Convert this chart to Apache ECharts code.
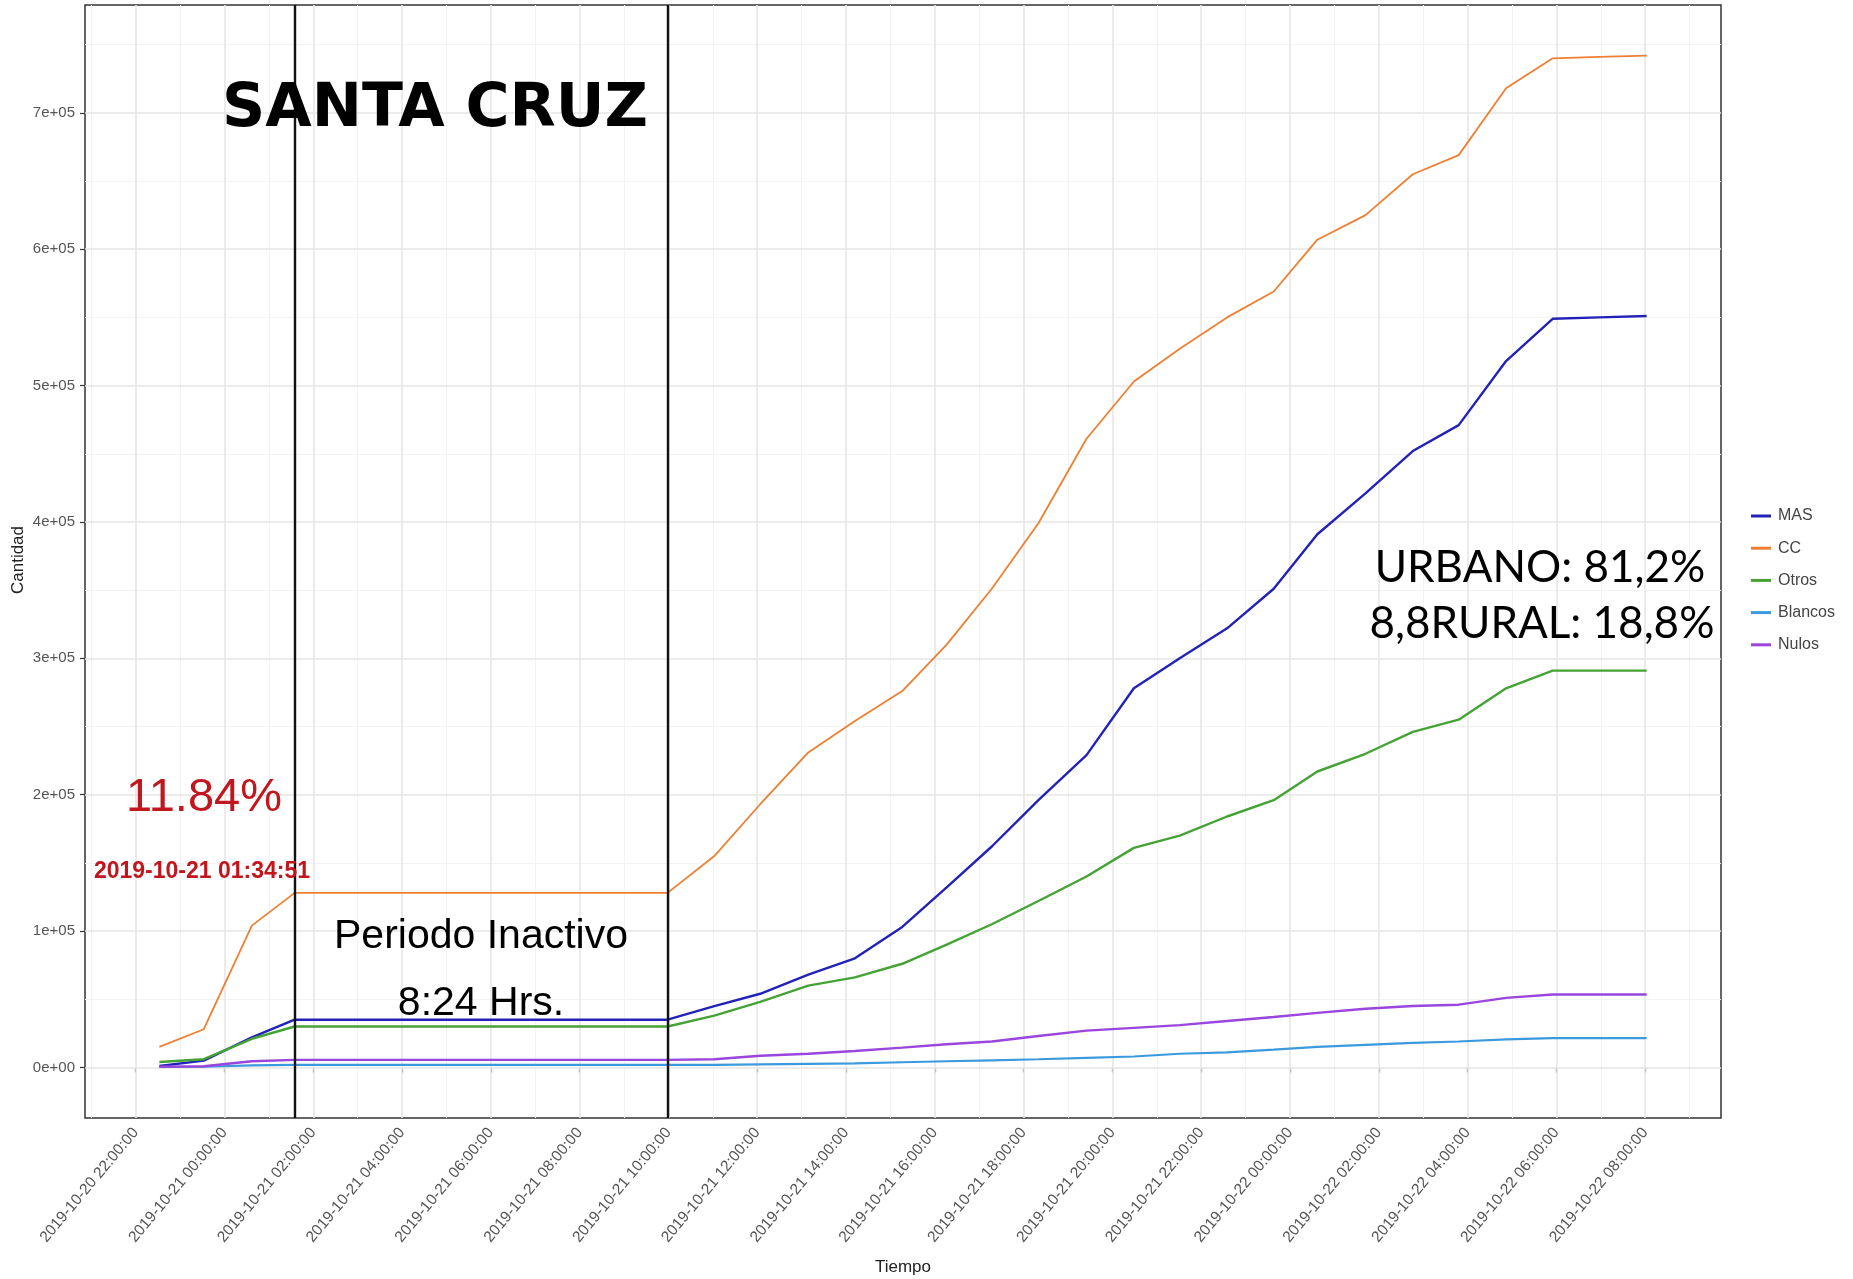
<!DOCTYPE html>
<html>
<head>
<meta charset="utf-8">
<script src="https://cdn.jsdelivr.net/npm/echarts@6/dist/echarts.min.js"></script>
<style>
html,body{margin:0;padding:0;background:#fff;}
#chart{width:1853px;height:1279px;}
</style>
</head>
<body>
<div id="chart"></div>
<script>
// ---- data ----
const times = ['2019-10-20 22:32','2019-10-20 23:32','2019-10-21 00:37','2019-10-21 01:34:51','2019-10-21 09:58:51',
  '2019-10-21 11:02','2019-10-21 12:04','2019-10-21 13:09','2019-10-21 14:12','2019-10-21 15:16','2019-10-21 16:16',
  '2019-10-21 17:17','2019-10-21 18:20','2019-10-21 19:25','2019-10-21 20:29','2019-10-21 21:31','2019-10-21 22:35',
  '2019-10-21 23:38','2019-10-22 00:37','2019-10-22 01:42','2019-10-22 02:46','2019-10-22 03:48','2019-10-22 04:52',
  '2019-10-22 05:55','2019-10-22 06:58','2019-10-22 08:02'];
const mas     = [1000,5000,22000,35000,35000,45000,54000,68000,80000,103000,132000,162000,196000,229000,278000,300000,322000,351000,391000,421000,452000,471000,518000,549000,550000,551000];
const cc      = [15000,28000,104000,128000,128000,155000,193000,231000,254000,276000,310000,351000,399000,461000,503000,527000,550000,569000,607000,625000,655000,669000,718000,740000,741000,742000];
const otros   = [4000,6000,21000,30000,30000,38000,48000,60000,66000,76000,90000,105000,122000,140000,161000,170000,184000,196000,217000,230000,246000,255000,278000,291000,291000,291000];
const blancos = [300,500,1500,1800,1800,1800,2200,2600,3000,3800,4500,5200,6000,7000,8000,10000,11000,13000,15000,16500,18000,19000,20500,21500,21500,21500];
const nulos   = [500,800,4500,5500,5500,6000,8500,10000,12000,14500,17000,19000,23000,27000,29000,31000,34000,37000,40000,43000,45000,46000,51000,53500,53500,53500];
const seriesNames = ['MAS','CC','Otros','Blancos','Nulos'];
const seriesColors = ['#2222b8','#ee7f33','#45a336','#3b9ade','#9a46de'];
const seriesWidths = [2.4,1.8,2.4,2.2,2.4];
const xTickTimes = ['2019-10-20 22:00','2019-10-21 00:00','2019-10-21 02:00','2019-10-21 04:00','2019-10-21 06:00','2019-10-21 08:00',
  '2019-10-21 10:00','2019-10-21 12:00','2019-10-21 14:00','2019-10-21 16:00','2019-10-21 18:00','2019-10-21 20:00',
  '2019-10-21 22:00','2019-10-22 00:00','2019-10-22 02:00','2019-10-22 04:00','2019-10-22 06:00','2019-10-22 08:00'];
const yTicks = [0,100000,200000,300000,400000,500000,600000,700000];
const vLines = ['2019-10-21 01:34:51','2019-10-21 09:58:51'];

// ---- helpers ----
function toH(s){ // hours since 2019-10-20 00:00
  const [d,t] = s.split(' ');
  const day = +d.split('-')[2];
  const p = t.split(':').map(Number);
  return (day-20)*24 + p[0] + p[1]/60 + (p[2]||0)/3600;
}
const xs = times.map(toH);
const xTicks = xTickTimes.map(toH);
const xr = xs[xs.length-1]-xs[0];
const xMin = xs[0]-0.05*xr, xMax = xs[xs.length-1]+0.05*xr;
const yMaxData = Math.max(...cc);
const yMin = -0.05*yMaxData, yMax = yMaxData*1.05;
const xMinor = xTicks.map(v=>v-1).concat([xTicks[xTicks.length-1]+1]);
const yMinor = yTicks.map(v=>v+50000);
const pad = n => (n<10?'0':'')+n;

const allVals = [mas,cc,otros,blancos,nulos];
const lineSeries = seriesNames.map((n,i)=>({
  name:n, type:'line', showSymbol:false, symbol:'none', z:3,
  data: xs.map((x,j)=>[x, allVals[i][j]]),
  lineStyle:{color:seriesColors[i], width:seriesWidths[i]},
  itemStyle:{color:seriesColors[i]}
}));

const gridSeries = {
  type:'line', data:[], silent:true, z:1,
  markLine:{
    z:1, silent:true, symbol:['none','none'], label:{show:false}, animation:false,
    data: []
      .concat(xMinor.map(v=>({xAxis:v, lineStyle:{color:'#f3f3f3',width:1,type:'solid'}})))
      .concat(yMinor.map(v=>({yAxis:v, lineStyle:{color:'#f3f3f3',width:1,type:'solid'}})))
      .concat(xTicks.map(v=>({xAxis:v, lineStyle:{color:'#e6e6e6',width:1.6,type:'solid'}})))
      .concat(yTicks.map(v=>({yAxis:v, lineStyle:{color:'#e6e6e6',width:1.6,type:'solid'}})))
  }
};
const vSeries = {
  type:'line', data:[], silent:true, z:4,
  markLine:{
    z:4, silent:true, symbol:['none','none'], label:{show:false}, animation:false,
    data: vLines.map(t=>({xAxis:toH(t), lineStyle:{color:'#111',width:2.4,type:'solid'}}))
  }
};

const sans = '"Liberation Sans",Arial,sans-serif';

const chart = echarts.init(document.getElementById('chart'), null, {renderer:'canvas'});
chart.setOption({
  animation:false,
  backgroundColor:'#ffffff',
  grid:{left:85, right:132, top:5, bottom:161, show:true, borderColor:'#333', borderWidth:1.5, backgroundColor:'#fff'},
  xAxis:{
    type:'value', min:xMin, max:xMax,
    axisLine:{show:false},
    splitLine:{show:false},
    axisTick:{show:true, customValues:xTicks, length:5, lineStyle:{color:'#333',width:1.2}},
    axisLabel:{customValues:xTicks, rotate:50, margin:12, fontSize:15.5, color:'#555', fontFamily:sans,
      formatter:v=>{const d=20+Math.floor(v/24+1e-9); const h=Math.round(v-(d-20)*24); return '2019-10-'+d+' '+pad(h)+':00:00';}}
  },
  yAxis:{
    type:'value', min:yMin, max:yMax,
    axisLine:{show:false},
    splitLine:{show:false},
    axisTick:{show:true, customValues:yTicks, length:5, lineStyle:{color:'#333',width:1.2}},
    axisLabel:{customValues:yTicks, margin:10, fontSize:15, color:'#555', fontFamily:sans,
      formatter:v=> v===0 ? '0e+00' : Math.round(v/100000)+'e+05'}
  },
  legend:{
    orient:'vertical', left:1746, top:503, icon:'rect', itemWidth:20, itemHeight:3, itemGap:16.2,
    data:seriesNames,
    textStyle:{fontSize:16, color:'#444', fontFamily:sans, padding:[0,0,0,2]}
  },
  series:[gridSeries].concat(lineSeries).concat([vSeries]),
  graphic:[
    {type:'text', z:10, style:{x:435, y:110, text:'SANTA CRUZ', align:'center', verticalAlign:'middle',
      font:'bold 60px "DejaVu Sans", "Open Sans", sans-serif', fill:'#000'}},
    {type:'text', z:10, style:{x:1540, y:568, text:'URBANO: 81,2%', align:'center', verticalAlign:'middle',
      font:'44px Lato, "Open Sans", sans-serif', fill:'#000'}},
    {type:'text', z:10, style:{x:1542, y:624, text:'8,8RURAL: 18,8%', align:'center', verticalAlign:'middle',
      font:'44px Lato, "Open Sans", sans-serif', fill:'#000'}},
    {type:'text', z:10, style:{x:204, y:798, text:'11.84%', align:'center', verticalAlign:'middle',
      font:'47px '+sans, fill:'#c2161e'}},
    {type:'text', z:10, style:{x:202, y:872, text:'2019-10-21 01:34:51', align:'center', verticalAlign:'middle',
      font:'bold 23px '+sans, fill:'#c2161e'}},
    {type:'text', z:10, style:{x:481, y:937, text:'Periodo Inactivo', align:'center', verticalAlign:'middle',
      font:'41px '+sans, fill:'#000'}},
    {type:'text', z:10, style:{x:481, y:1004, text:'8:24 Hrs.', align:'center', verticalAlign:'middle',
      font:'41px '+sans, fill:'#000'}},
    {type:'text', z:10, style:{x:903, y:1267, text:'Tiempo', align:'center', verticalAlign:'middle',
      font:'17px '+sans, fill:'#222'}},
    {type:'text', z:10, x:18, y:560, rotation:Math.PI/2, style:{x:0, y:0, text:'Cantidad', align:'center', verticalAlign:'middle',
      font:'17px '+sans, fill:'#222'}}
  ]
});
</script>
</body>
</html>
